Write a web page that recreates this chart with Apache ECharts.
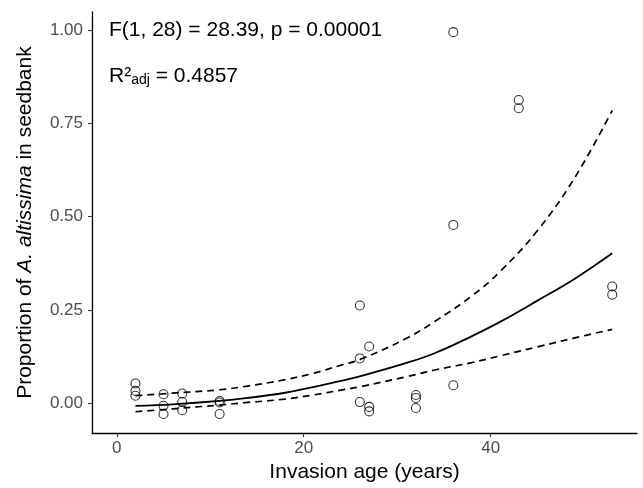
<!DOCTYPE html>
<html>
<head>
<meta charset="utf-8">
<script src="https://cdn.jsdelivr.net/npm/echarts@6/dist/echarts.min.js"></script>
<style>
  html, body { margin: 0; padding: 0; background: #fff; }
  #chart { width: 643px; height: 488px; }
</style>
</head>
<body>
<div id="chart"></div>
<script>
// observed seedbank proportions vs invasion age
const ageX = [2, 2, 2, 5, 5, 5, 7, 7, 7, 11, 11, 11, 26, 26, 26, 27, 27, 27, 32, 32, 32, 36, 36, 36, 43, 43, 53, 53];
const propY = [0.053, 0.033, 0.020, 0.024, -0.007, -0.029, 0.026, 0.003, -0.019, 0.006, 0.002, -0.029,
  0.262, 0.120, 0.003, 0.152, -0.010, -0.022, 0.022, 0.014, -0.013, 0.995, 0.478, 0.048, 0.813, 0.791, 0.313, 0.291];

// fitted curve and confidence band
const curveX = [2, 6, 11, 14, 18, 21, 24, 26, 31, 34, 38, 41, 45, 49, 53];
const fitY   = [-0.007, -0.003, 0.006, 0.014, 0.028, 0.043, 0.060, 0.072, 0.108, 0.134, 0.180, 0.218, 0.275, 0.334, 0.402];
const upperY = [0.020, 0.027, 0.036, 0.046, 0.063, 0.080, 0.102, 0.117, 0.174, 0.219, 0.288, 0.353, 0.463, 0.605, 0.785];
const lowerY = [-0.023, -0.015, -0.005, 0.002, 0.011, 0.022, 0.035, 0.044, 0.071, 0.089, 0.109, 0.127, 0.151, 0.175, 0.198];

const xTicks = [0, 20, 40];
const yTicks = [0, 0.25, 0.5, 0.75, 1];

const FONT = 'Liberation Sans, Arial, sans-serif';

const zip = (xs, ys) => xs.map((x, i) => [x, ys[i]]);

const chart = echarts.init(document.getElementById('chart'));

const dashed = {
  color: '#000',
  width: 1.7,
  type: [7, 5],
};

chart.setOption({
  animation: false,
  grid: { left: 92, right: 6, top: 12, bottom: 54, containLabel: false },
  xAxis: {
    type: 'value',
    min: -2.65,
    max: 55.65,
    name: 'Invasion age (years)',
    nameLocation: 'middle',
    nameGap: 25,
    nameTextStyle: { fontFamily: FONT, fontSize: 21, color: '#000' },
    axisLine: { show: true, onZero: false, lineStyle: { color: '#000', width: 1.3 } },
    axisTick: { show: true, length: 4, customValues: xTicks, lineStyle: { color: '#333', width: 1.1 } },
    axisLabel: { customValues: xTicks, margin: 7, fontFamily: FONT, fontSize: 17, color: '#4d4d4d' },
    splitLine: { show: false },
  },
  yAxis: {
    type: 'value',
    min: -0.0802,
    max: 1.049,
    name: '{n|Proportion of }{i|A. altissima}{n| in seedbank}',
    nameLocation: 'middle',
    nameRotate: 90,
    nameGap: 56,
    nameTextStyle: {
      fontFamily: FONT, fontSize: 21, color: '#000',
      rich: {
        n: { fontFamily: FONT, fontSize: 21, color: '#000' },
        i: { fontFamily: FONT, fontSize: 21, color: '#000', fontStyle: 'italic' },
      },
    },
    axisLine: { show: true, onZero: false, lineStyle: { color: '#000', width: 1.3 } },
    axisTick: { show: true, length: 4, customValues: yTicks, lineStyle: { color: '#333', width: 1.1 } },
    axisLabel: {
      customValues: yTicks, margin: 9, fontFamily: FONT, fontSize: 17, color: '#4d4d4d',
      formatter: (v) => v.toFixed(2),
    },
    splitLine: { show: false },
  },
  graphic: [
    {
      type: 'text', left: 109, top: 20,
      style: { text: 'F(1, 28) = 28.39, p = 0.00001', fontFamily: FONT, fontSize: 21, fill: '#000' },
    },
    {
      type: 'text', left: 109, top: 66,
      style: {
        text: '{a|R²}{s|adj}{a| = 0.4857}',
        fontFamily: FONT, fontSize: 21, fill: '#000',
        rich: {
          a: { fontFamily: FONT, fontSize: 21, lineHeight: 22 },
          s: { fontFamily: FONT, fontSize: 14, lineHeight: 4, verticalAlign: 'bottom' },
        },
      },
    },
  ],
  series: [
    {
      name: 'upper', type: 'line', data: zip(curveX, upperY),
      smooth: 0.4, showSymbol: false, lineStyle: dashed, z: 2,
    },
    {
      name: 'lower', type: 'line', data: zip(curveX, lowerY),
      smooth: 0.4, showSymbol: false, lineStyle: dashed, z: 2,
    },
    {
      name: 'fit', type: 'line', data: zip(curveX, fitY),
      smooth: 0.4, showSymbol: false, lineStyle: { color: '#000', width: 1.8, type: 'solid' }, z: 2,
    },
    {
      name: 'observed', type: 'scatter', data: zip(ageX, propY),
      symbol: 'circle', symbolSize: 9,
      itemStyle: { color: 'rgba(0,0,0,0)', borderColor: '#000', borderWidth: 1.1 },
      z: 3,
    },
  ],
});
</script>
</body>
</html>
